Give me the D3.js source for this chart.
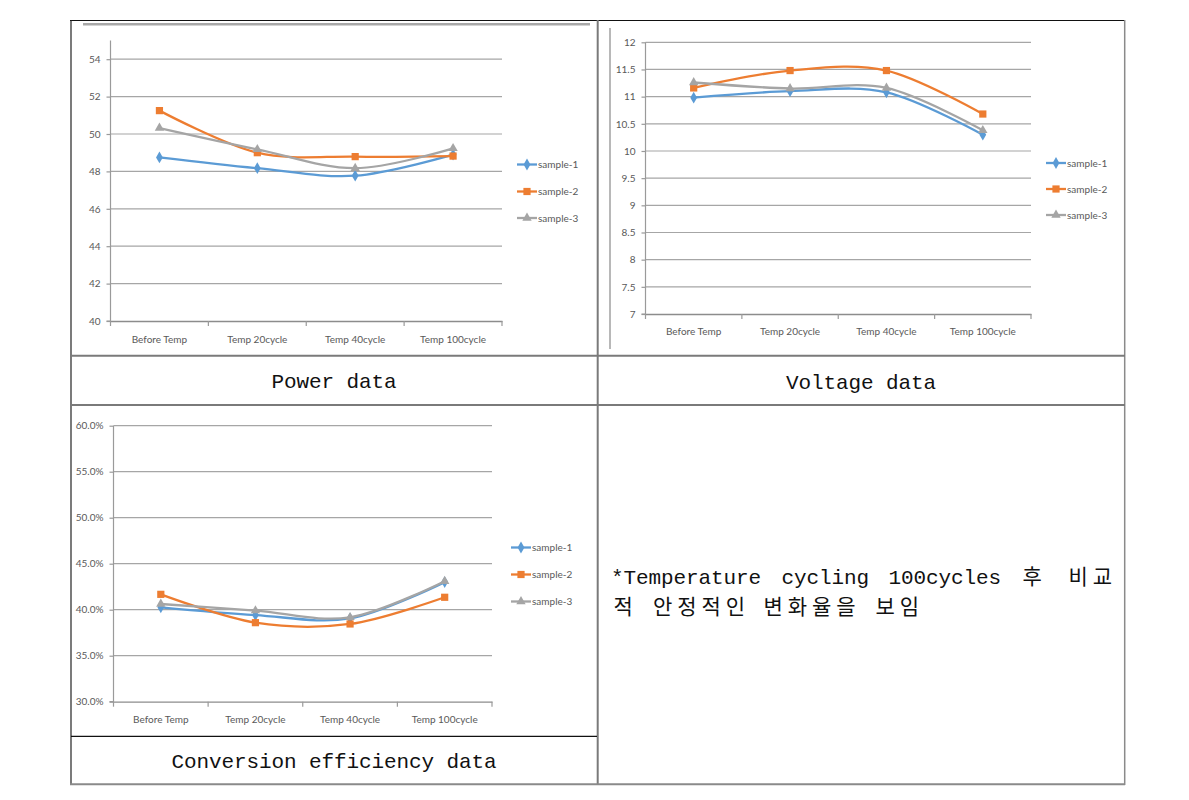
<!DOCTYPE html>
<html>
<head>
<meta charset="utf-8">
<script src="https://cdn.jsdelivr.net/npm/d3@7"></script>
<style>
  html, body { margin: 0; padding: 0; background: #fff; }
  svg { display: block; }
</style>
</head>
<body>
<svg id="chart" width="1189" height="800"></svg>
<script>
// ---------- DATA ----------
const categories = ["Before Temp", "Temp 20cycle", "Temp 40cycle", "Temp 100cycle"];
const seriesNames = ["sample-1", "sample-2", "sample-3"];

const powerS1 = [48.75, 48.17, 47.77, 48.90];
const powerS2 = [51.25, 49.00, 48.79, 48.82];
const powerS3 = [50.32, 49.18, 48.17, 49.23];
const powerTicks = [40, 42, 44, 46, 48, 50, 52, 54];

const voltageS1 = [10.98, 11.10, 11.08, 10.30];
const voltageS2 = [11.16, 11.48, 11.48, 10.68];
const voltageS3 = [11.26, 11.15, 11.16, 10.38];
const voltageTicks = [7, 7.5, 8, 8.5, 9, 9.5, 10, 10.5, 11, 11.5, 12];

const effS1 = [40.26, 39.42, 39.06, 43.00];
const effS2 = [41.67, 38.59, 38.45, 41.35];
const effS3 = [40.62, 39.90, 39.17, 43.10];
const effTicks = [30, 35, 40, 45, 50, 55, 60];

const captions = ["Power data", "Voltage data", "Conversion efficiency data"];
const noteLine1 = ["*Temperature", "cycling", "100cycles", "후", "비교"];
const noteLine2 = ["적", "안정적인", "변화율을", "보임"];

// ---------- STYLE ----------
const colors = ["#5B9BD5", "#ED7D31", "#A5A5A5"];
const markers = [d3.symbolDiamond, d3.symbolSquare, d3.symbolTriangle];
const markerSizes = [40, 52, 38];
const chartFont = "Lato, 'Open Sans', sans-serif";
const textColor = "#595959";
const monoFont = "'Liberation Mono', 'DejaVu Sans Mono', monospace";
const krFont = "'Noto Sans CJK KR', sans-serif";
const latinAdv = 12.5;   // monospace cell width for latin glyphs
const krAdv = 24.25;     // full-width cell for hangul glyphs

const svg = d3.select("#chart");
svg.append("rect").attr("width", 1189).attr("height", 800).attr("fill", "#fff");

// ---------- TABLE ----------
const tbl = svg.append("g");
function hline(y, x1, x2, c, w) { tbl.append("line").attr("x1", x1).attr("x2", x2).attr("y1", y).attr("y2", y).attr("stroke", c).attr("stroke-width", w); }
function vline(x, y1, y2, c, w) { tbl.append("line").attr("x1", x).attr("x2", x).attr("y1", y1).attr("y2", y2).attr("stroke", c).attr("stroke-width", w); }

hline(24.3, 83, 590, "#a8a8a8", 2.5);
vline(610, 28, 349, "#b8b8b8", 2);

hline(20.5, 70, 1125, "#111", 1.2);
vline(71, 20, 785, "#222", 1.2);
vline(1124.7, 20, 785, "#8a8a8a", 1.5);
vline(597.7, 20, 785, "#7a7a7a", 2);
hline(355.7, 70, 1125, "#7a7a7a", 2);
hline(405, 70, 1125, "#7a7a7a", 2);
hline(736.3, 71, 597, "#111", 1.3);
hline(784.3, 70, 1125, "#8a8a8a", 2);

// ---------- CHART ----------
function drawChart(cfg) {
  const g = svg.append("g");
  const x = d3.scaleBand().domain(categories).range([cfg.x0, cfg.x1]);
  const y = d3.scaleLinear().domain(cfg.domain).range([cfg.y0, cfg.y1]);

  g.selectAll(".grid").data(cfg.ticks.slice(1)).join("line")
    .attr("x1", cfg.x0).attr("x2", cfg.x1)
    .attr("y1", d => y(d)).attr("y2", d => y(d))
    .attr("stroke", "#a6a6a6").attr("stroke-width", 1.2);

  const yAxis = d3.axisLeft(y).tickValues(cfg.ticks).tickSize(4).tickPadding(6).tickFormat(cfg.fmt);
  const ya = g.append("g").attr("transform", `translate(${cfg.x0},0)`).call(yAxis);
  ya.select(".domain").attr("stroke", "#9a9a9a").attr("stroke-width", 1.2)
    .attr("d", `M-4,${cfg.y0}H0V${y(cfg.domain[1])}`);
  ya.selectAll(".tick line").attr("stroke", "#9a9a9a").attr("stroke-width", 1.2);
  ya.selectAll(".tick text").attr("fill", textColor).attr("font-family", chartFont).attr("font-size", 10);

  const xa = g.append("g").attr("transform", `translate(0,${cfg.y0})`)
    .call(d3.axisBottom(x).tickSize(0).tickPadding(cfg.xPad));
  xa.select(".domain").attr("stroke", "#8c8c8c").attr("stroke-width", 1.3);
  xa.selectAll(".tick text").attr("fill", textColor).attr("font-family", chartFont).attr("font-size", 10);
  const bounds = categories.map(c => x(c)).concat([cfg.x1]);
  g.selectAll(".bt").data(bounds).join("line")
    .attr("x1", d => d).attr("x2", d => d).attr("y1", cfg.y0).attr("y2", cfg.y0 + 5)
    .attr("stroke", "#9a9a9a").attr("stroke-width", 1.2);

  const line = d3.line()
    .x((d, i) => x(categories[i]) + x.bandwidth() / 2)
    .y(d => y(d))
    .curve(d3.curveCardinal.tension(0));

  cfg.series.forEach((vals, si) => {
    g.append("path").attr("d", line(vals)).attr("fill", "none")
      .attr("stroke", colors[si]).attr("stroke-width", 2.3).attr("stroke-linejoin", "round");
    g.selectAll(".m" + si).data(vals).join("path")
      .attr("transform", (d, i) => `translate(${x(categories[i]) + x.bandwidth() / 2},${y(d)})`)
      .attr("d", d3.symbol().type(markers[si]).size(markerSizes[si]))
      .attr("fill", colors[si]);
  });

  seriesNames.forEach((name, si) => {
    const ly = cfg.legY[si];
    g.append("line").attr("x1", cfg.legX).attr("x2", cfg.legX + 20).attr("y1", ly).attr("y2", ly)
      .attr("stroke", colors[si]).attr("stroke-width", 2.3);
    g.append("path").attr("transform", `translate(${cfg.legX + 10},${ly})`)
      .attr("d", d3.symbol().type(markers[si]).size(markerSizes[si])).attr("fill", colors[si]);
    g.append("text").attr("x", cfg.legX + 21).attr("y", ly).attr("dy", "0.35em")
      .attr("fill", textColor).attr("font-family", chartFont).attr("font-size", 10).text(name);
  });
}

drawChart({
  x0: 110.5, x1: 502, y0: 321, y1: 40.5, domain: [40, 55], ticks: powerTicks,
  fmt: d => d, series: [powerS1, powerS2, powerS3], legX: 517, legY: [164.5, 191.5, 218], xPad: 15
});
drawChart({
  x0: 645.5, x1: 1031, y0: 314, y1: 42.3, domain: [7, 12], ticks: voltageTicks,
  fmt: d => d, series: [voltageS1, voltageS2, voltageS3], legX: 1046, legY: [163, 189, 215], xPad: 14
});
drawChart({
  x0: 113.5, x1: 492, y0: 701.7, y1: 425.7, domain: [30, 60], ticks: effTicks,
  fmt: d => d.toFixed(1) + "%", series: [effS1, effS2, effS3], legX: 511, legY: [547.5, 574.5, 601.5], xPad: 14
});

// ---------- MONOSPACED TEXT (per-character cells) ----------
function monoText(str, startX, baseY) {
  const chars = Array.from(str);
  let cx = startX;
  const xs = [];
  chars.forEach(ch => {
    const kr = /[\uAC00-\uD7A3]/.test(ch);
    const adv = kr ? krAdv : latinAdv;
    xs.push({ ch, x: cx + adv / 2, kr });
    cx += adv;
  });
  const lat = xs.filter(d => !d.kr && d.ch !== " ");
  const krs = xs.filter(d => d.kr);
  if (lat.length) svg.append("text").attr("x", lat.map(d => d.x).join(" ")).attr("y", baseY)
    .attr("text-anchor", "middle").attr("font-family", monoFont).attr("font-size", 21)
    .attr("fill", "#111").text(lat.map(d => d.ch).join(""));
  if (krs.length) svg.append("text").attr("x", krs.map(d => d.x).join(" ")).attr("y", baseY)
    .attr("text-anchor", "middle").attr("font-family", krFont).attr("font-size", 21)
    .attr("fill", "#111").text(krs.map(d => d.ch).join(""));
}
function widthOf(str) { return Array.from(str).reduce((s, ch) => s + (/[\uAC00-\uD7A3]/.test(ch) ? krAdv : latinAdv), 0); }

const capPos = [[334, 388], [861, 389], [334, 768]];
captions.forEach((c, i) => monoText(c, capPos[i][0] - widthOf(c) / 2, capPos[i][1]));

// ---------- NOTE ----------
const l1x = [611, 781.5, 888.5, 1020, 1066];
const l2x = [611, 650.5, 761, 873];
noteLine1.forEach((w, i) => monoText(w, l1x[i], 583.5));
noteLine2.forEach((w, i) => monoText(w, l2x[i], 614));
</script>
</body>
</html>
